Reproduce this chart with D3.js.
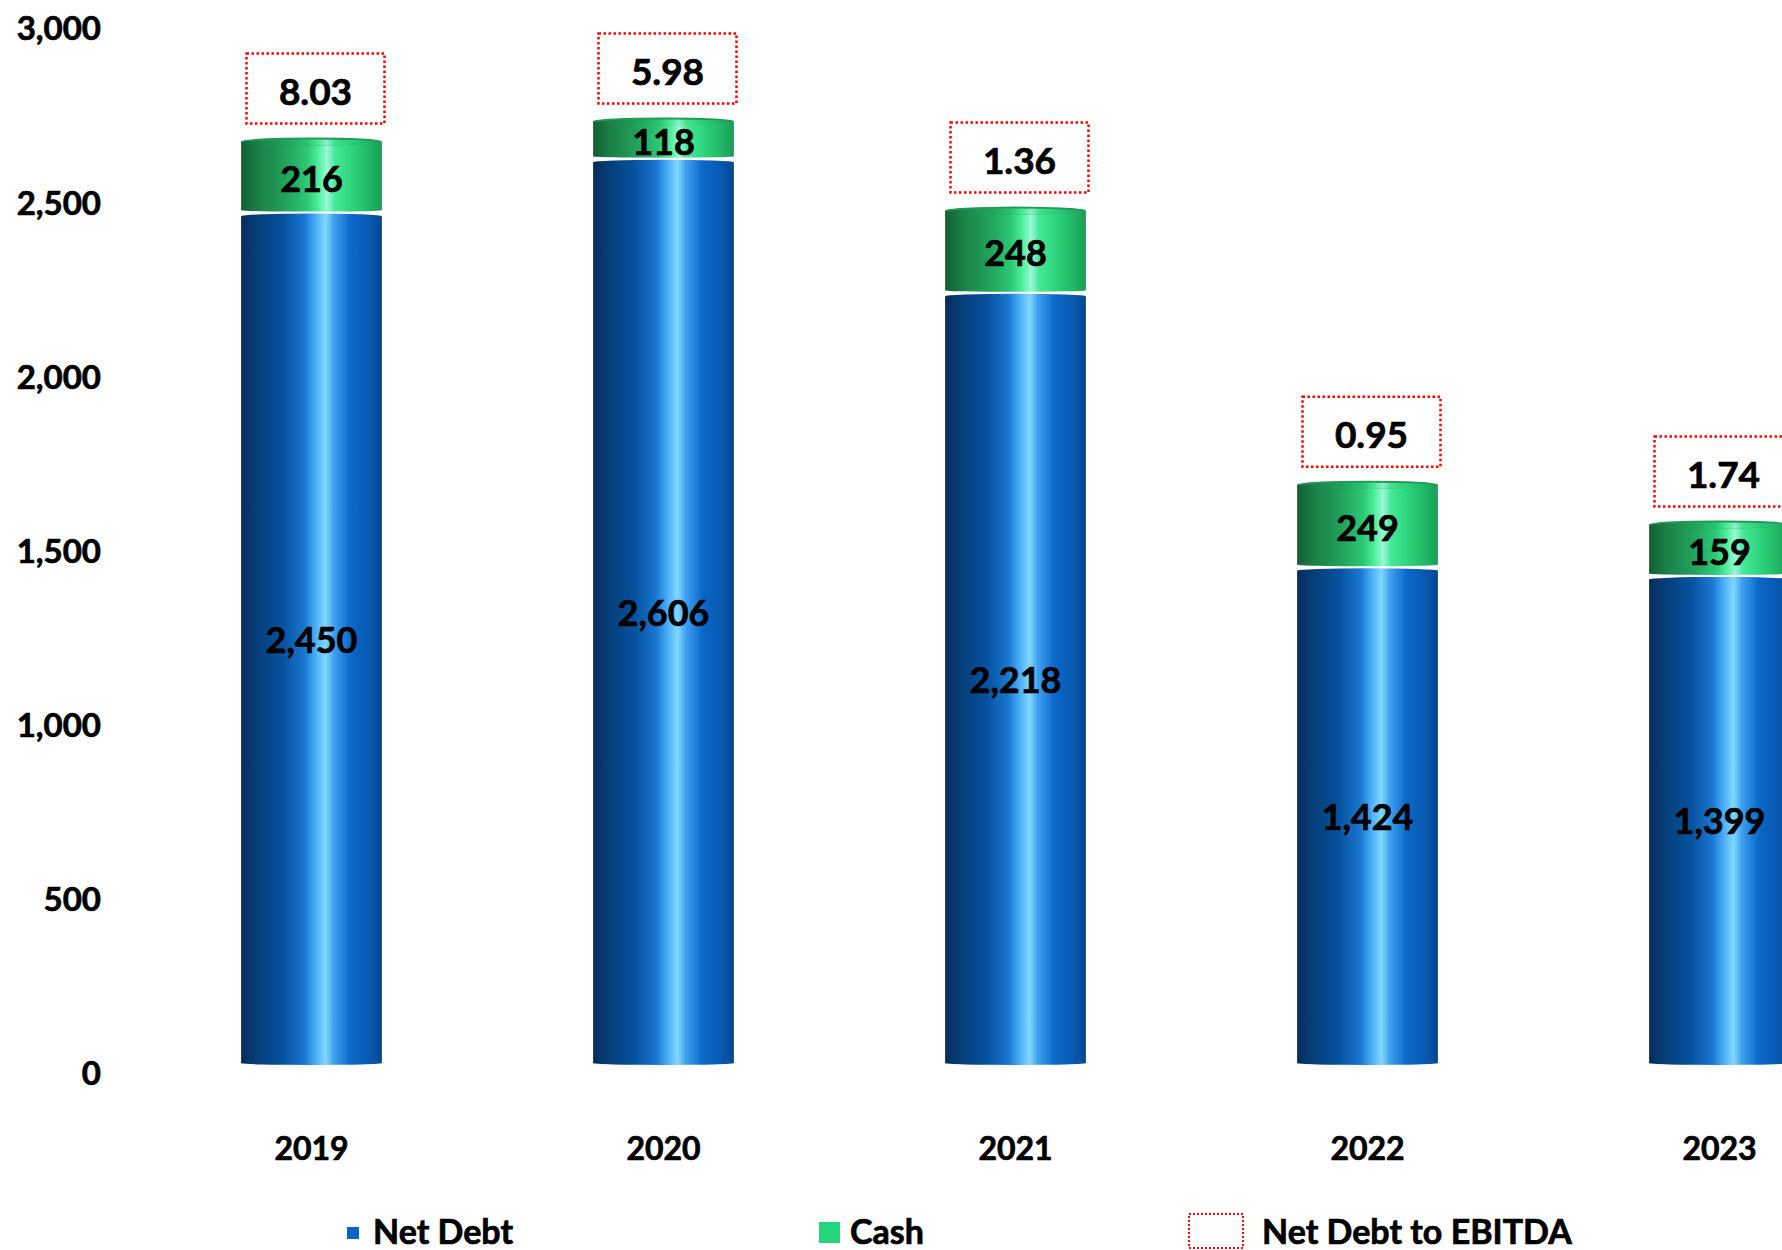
<!DOCTYPE html>
<html><head><meta charset="utf-8">
<script src="https://cdn.jsdelivr.net/npm/d3@7"></script>
<style>
html,body{margin:0;padding:0;background:#fff;}
svg{display:block;font-family:Lato,"Open Sans",sans-serif;font-weight:700;}
svg text{stroke:#000;stroke-width:0.7px;paint-order:stroke;}
</style></head>
<body>
<svg id="chart" width="1782" height="1250"></svg>
<script>
const years = ["2019","2020","2021","2022","2023"];
const netDebt = [2450, 2606, 2218, 1424, 1399];
const cash = [216, 118, 248, 249, 159];
const ratio = ["8.03","5.98","1.36","0.95","1.74"];
const yTicks = [0, 500, 1000, 1500, 2000, 2500, 3000];

const svg = d3.select("#chart");
const defs = svg.append("defs");

function grad(id, stops){
  const g = defs.append("linearGradient").attr("id", id).attr("x1","0%").attr("x2","100%").attr("y1","0%").attr("y2","0%");
  stops.forEach(s => g.append("stop").attr("offset", s[0]).attr("stop-color", s[1]));
}
grad("gBlue", [["0%","#042a55"],["8%","#053a72"],["30%","#0753a0"],["45%","#1a78d0"],["52%","#45a8f5"],["60%","#7fd8ff"],["66%","#3f9ff0"],["78%","#0a68c8"],["92%","#0757ad"],["100%","#06478e"]]);
grad("gGreen", [["0%","#145c34"],["10%","#1a7a45"],["32%","#22a35c"],["47%","#2cc876"],["55%","#4ef09a"],["61%","#9af7d8"],["67%","#44e894"],["80%","#2bd27a"],["92%","#22b466"],["100%","#1e9a58"]]);

const x = d3.scaleBand().domain(years).range([135.5, 1895.5]).paddingInner(0.6).paddingOuter(0.3);
const y = d3.scaleLinear().domain([0, 3000]).range([1063, 26]);
const yLab = d3.scaleLinear().domain([0, 3000]).range([1073, 28]);

// y-axis labels
const yAxis = d3.axisLeft(yLab).tickValues(yTicks).tickFormat(d3.format(",")).tickSize(0).tickPadding(0);
const ya = svg.append("g").attr("transform","translate(101,0)").call(yAxis);
ya.select(".domain").remove();
ya.selectAll("text").attr("font-size", 33).attr("font-family","Lato,'Open Sans',sans-serif").attr("font-weight",700).attr("fill","#000").attr("dy","0.36em");

// x-axis labels
const xAxis = d3.axisBottom(x).tickSize(0).tickPadding(0);
const xa = svg.append("g").attr("transform","translate(0,1137)").call(xAxis);
xa.select(".domain").remove();
xa.selectAll("text").attr("font-size", 32).attr("font-family","Lato,'Open Sans',sans-serif").attr("font-weight",700).attr("fill","#000").attr("dy","0.72em");

const data = years.map((yr,i)=>({yr, nd: netDebt[i], c: cash[i], r: ratio[i]}));
const bw = x.bandwidth();
const gap = 6;
const bars = svg.append("g");

data.forEach(d=>{
  const x0 = x(d.yr);
  const cx = x0 + bw/2;
  // net debt segment
  const ndTop = y(d.nd), ndBot = y(0);
  bars.append("rect").attr("x", x0).attr("y", ndTop).attr("width", bw).attr("height", ndBot-ndTop).attr("fill","url(#gBlue)");
  bars.append("ellipse").attr("cx", cx).attr("cy", ndTop).attr("rx", bw/2).attr("ry", 2.5).attr("fill","url(#gBlue)");
  bars.append("ellipse").attr("cx", cx).attr("cy", ndBot).attr("rx", bw/2).attr("ry", 2).attr("fill","url(#gBlue)");
  // cash segment
  const cTop = y(d.nd + d.c), cBot = y(d.nd) - gap;
  bars.append("rect").attr("x", x0).attr("y", cTop).attr("width", bw).attr("height", cBot-cTop).attr("fill","url(#gGreen)");
  bars.append("ellipse").attr("cx", cx).attr("cy", cTop).attr("rx", bw/2).attr("ry", 4).attr("fill","#1f9c58");
  bars.append("ellipse").attr("cx", cx).attr("cy", cTop+1).attr("rx", bw/2-1).attr("ry", 3).attr("fill","url(#gGreen)").attr("opacity",0.9);
  bars.append("ellipse").attr("cx", cx).attr("cy", cBot).attr("rx", bw/2).attr("ry", 1.5).attr("fill","url(#gGreen)");

  // labels
  bars.append("text").attr("x", cx).attr("y", (ndTop+ndBot)/2).attr("dy","0.36em").attr("text-anchor","middle")
    .attr("font-size",36).attr("fill","#000").text(d3.format(",")(d.nd));
  bars.append("text").attr("x", cx).attr("y", (cTop+cBot)/2 + 3).attr("dy","0.36em").attr("text-anchor","middle")
    .attr("font-size",36).attr("fill","#000").text(d3.format(",")(d.c));

  // ratio box
  const ty = cTop - 50;
  bars.append("rect").attr("x", cx + 4 - 69).attr("y", ty - 38).attr("width", 138).attr("height", 70)
    .attr("fill","#fff").attr("stroke","#ff0000").attr("stroke-width",2.5).attr("stroke-dasharray","2.5 2.5");
  bars.append("text").attr("x", cx + 4).attr("y", ty).attr("dy","0.36em").attr("text-anchor","middle")
    .attr("font-size",37).attr("fill","#000").text(d.r);
});

// legend
const lg = svg.append("g").attr("font-size",34).attr("fill","#000");
lg.append("rect").attr("x",347).attr("y",1227).attr("width",12).attr("height",12).attr("fill","#0a64c8");
lg.append("text").attr("x",373).attr("y",1244).text("Net Debt");
lg.append("rect").attr("x",819).attr("y",1222).attr("width",21).attr("height",21).attr("fill","#26d47a");
lg.append("text").attr("x",850).attr("y",1244).text("Cash");
lg.append("rect").attr("x",1189).attr("y",1214).attr("width",54).attr("height",34).attr("fill","#fff")
  .attr("stroke","#ff0000").attr("stroke-width",2).attr("stroke-dasharray","2 2");
lg.append("text").attr("x",1262).attr("y",1244).text("Net Debt to EBITDA");
</script>
</body></html>
